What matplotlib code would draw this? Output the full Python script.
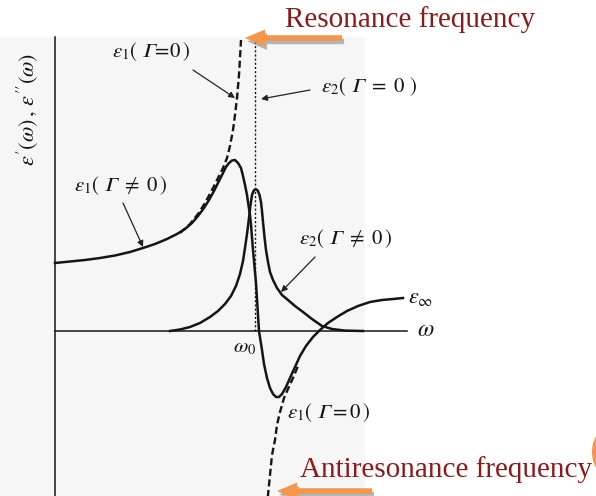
import matplotlib
matplotlib.use("Agg")
import matplotlib.pyplot as plt
from matplotlib.patches import Rectangle, FancyArrow, Ellipse
import matplotlib.patheffects as pe

plt.rcParams["mathtext.fontset"] = "stix"
plt.rcParams["font.family"] = ["Liberation Serif", "DejaVu Serif"]

# ---- Lorentz-oscillator response, frequency in cm^-1 (w0 = 200) ----
w0 = 200
eps1_damped_w = [0, 15, 30, 45, 60, 75, 88, 100, 112, 122, 130, 137, 143, 149,
                 154, 159, 164, 168, 171, 174, 177, 180, 183, 186, 188, 190,
                 192, 193, 195, 196, 198, 201, 203, 204, 207, 209, 212, 215,
                 218, 221, 224, 227, 231, 235, 240, 245, 251, 258, 265, 273,
                 282, 292, 303, 315, 327, 338, 348]
eps1_damped = [6.8, 6.95, 7.1, 7.3, 7.55, 7.9, 8.3, 8.7, 9.2, 9.7, 10.2, 10.8,
               11.5, 12.3, 13.1, 14.0, 15.0, 15.8, 16.4, 16.8, 17.05, 17.1,
               16.8, 16.3, 15.5, 14.6, 13.6, 12.9, 11.6, 10.6, 8.1, 4.8, 1.6,
               0.0, -1.9, -3.3, -4.7, -5.7, -6.3, -6.6, -6.6, -6.3, -5.6, -4.7,
               -3.6, -2.5, -1.5, -0.6, 0.1, 0.8, 1.4, 2.0, 2.5, 2.9, 3.1, 3.2,
               3.3]

eps2_damped_w = [115, 125, 135, 145, 155, 163, 170, 176, 181, 185, 188, 190,
                 192, 194, 195.5, 197, 198.5, 200, 201.5, 203, 204.5, 206, 207,
                 208, 209.5, 211, 213, 215, 218, 222, 227, 233, 240, 248, 257,
                 267, 277, 290, 308]
eps2_damped = [0.0, 0.15, 0.4, 0.8, 1.4, 2.0, 2.7, 3.5, 4.5, 5.7, 7.0, 8.3, 9.7,
               11.3, 12.6, 13.6, 14.0, 14.15, 14.15, 14.0, 13.6, 12.9, 12.0,
               10.9, 9.4, 8.1, 6.9, 5.9, 5.1, 4.3, 3.6, 3.1, 2.5, 1.9, 1.2, 0.5,
               0.2, 0.04, 0.0]

eps1_free_low_w = [125, 135, 143, 150, 157, 163, 168, 172, 175, 178, 180, 182,
                   184, 185, 186]
eps1_free_low = [9.8, 10.7, 11.7, 12.8, 14.1, 15.3, 16.3, 17.3, 18.5, 20.1,
                 21.6, 23.3, 25.6, 27.3, 29.1]

eps1_free_high_w = [212, 215, 217, 220, 222, 225, 229, 233, 238, 243]
eps1_free_high = [-17.4, -14.4, -12.4, -10.9, -9.4, -8.1, -6.7, -5.8, -4.7,
                  -3.5]

eps2_free_top = 29.1
y_axis_top = 29.4
w_axis_end = 352

fig = plt.figure(figsize=(5.96, 4.96), dpi=100)
ax = fig.add_axes([0, 0, 1, 1])
ax.set_xlim(-55, 541)
ax.set_ylim(-16.5, 33.1)
ax.axis("off")


def pix(x, y):
    """figure pixel position -> data coordinates"""
    return (x - 55, (331 - y) / 10.0)


# scanned-page background
bx0, by0 = pix(0, 496)
bx1, by1 = pix(365, 37)
ax.add_patch(Rectangle((bx0, by0 - 1), bx1 - bx0, by1 - by0 + 1,
                       facecolor="#f6f6f6", edgecolor="none", zorder=0))

ink = "#151515"
# axes
ax.plot([0, 0], [-17, y_axis_top], color=ink, lw=1.1, zorder=2)
ax.plot([0, w_axis_end], [0, 0], color=ink, lw=1.1, zorder=2)

# resonance position (eps2 for zero damping)
ax.plot([w0, w0], [0, eps2_free_top], color=ink, lw=1.0,
        linestyle=(0, (1.5, 1.5)), zorder=2)

# undamped eps1
ax.plot(eps1_free_low_w, eps1_free_low, color=ink, lw=1.7,
        linestyle=(0, (3.0, 1.5)), zorder=3)
ax.plot(eps1_free_high_w, eps1_free_high, color=ink, lw=1.7,
        linestyle=(0, (3.0, 1.5)), zorder=3)

# damped eps1 and eps2
ax.plot(eps1_damped_w, eps1_damped, color=ink, lw=1.8, zorder=4,
        solid_joinstyle="round")
ax.plot(eps2_damped_w, eps2_damped, color=ink, lw=1.8, zorder=4,
        solid_joinstyle="round")


def pointer(x0, y0, x1, y1):
    ax.annotate("", xy=pix(x1, y1), xytext=pix(x0, y0),
                arrowprops=dict(arrowstyle="-|>", color="#222222", lw=0.9,
                                mutation_scale=9, shrinkA=0, shrinkB=0),
                zorder=5)


pointer(193, 70, 235, 98)
pointer(310, 90, 261, 99)
pointer(123, 203, 143, 247)
pointer(315, 257, 281, 292)

G = "\U0001D6E4"
lab = dict(fontsize=15, color=ink, va="center", ha="left", zorder=6)
ax.text(*pix(112, 52), r"$\varepsilon_1(\ " + G + r"\!=\!0\,)$", **lab)
ax.text(*pix(321, 87), r"$\varepsilon_2(\ " + G + r"\ =\ 0\ )$", **lab)
ax.text(*pix(74, 186), r"$\varepsilon_1(\ " + G + r"\ \neq\ 0\,)$", **lab)
ax.text(*pix(299, 239), r"$\varepsilon_2(\ " + G + r"\ \neq\ 0\,)$", **lab)
ax.text(*pix(287, 413), r"$\varepsilon_1(\ " + G + r"=0\,)$", **lab)
ax.text(*pix(408, 299), r"$\varepsilon_{\infty}$", fontsize=16, color=ink,
        va="center", ha="left")
ax.text(*pix(417, 331), r"$\omega$", fontsize=17, color=ink,
        va="center", ha="left")
ax.text(*pix(245, 348), r"$\omega_0$", fontsize=15, color=ink,
        va="center", ha="center")
ax.text(*pix(27, 109), r"$\varepsilon'(\omega)\,,\,\varepsilon''(\omega)$",
        fontsize=16, color=ink, va="center", ha="center", rotation=90)

# frequency call-outs
red = "#8c1a1a"
orange = "#f5964a"
ax.text(*pix(285, 20), "Resonance frequency", fontsize=21, color=red,
        va="center", ha="left")
ax.text(*pix(300, 470), "Antiresonance frequency", fontsize=21, color=red,
        va="center", ha="left")

shadow = [pe.SimplePatchShadow(offset=(1.5, -2.5), shadow_rgbFace="#888888",
                               alpha=0.6), pe.Normal()]
for (xs, ys, xe) in [(342, 38, 245), (372, 491, 277)]:
    x0, y0 = pix(xs, ys)
    x1, _ = pix(xe, ys)
    arr = FancyArrow(x0, y0, x1 - x0, 0, width=0.55, head_width=1.7,
                     head_length=20, length_includes_head=True,
                     facecolor=orange, edgecolor="none", zorder=7)
    arr.set_path_effects(shadow)
    ax.add_patch(arr)

ex, ey = pix(603, 452)
ax.add_patch(Ellipse((ex, ey), 22, 4.0, facecolor=orange,
                     edgecolor="none", zorder=7))

fig.savefig("out.png", dpi=100)
